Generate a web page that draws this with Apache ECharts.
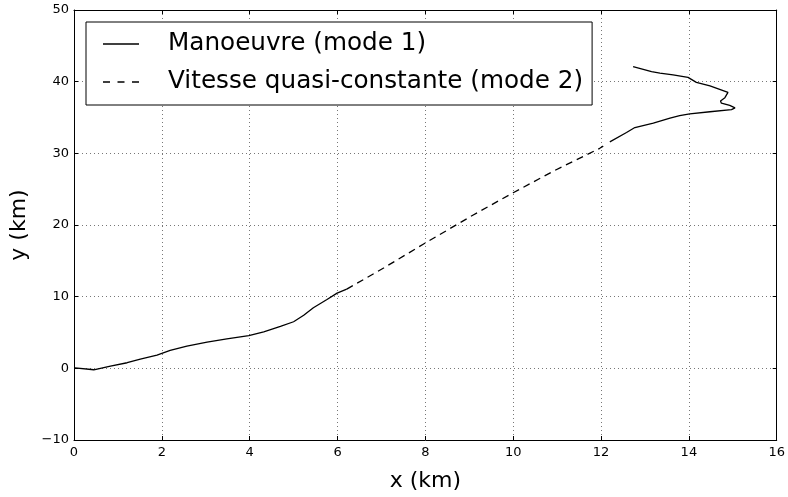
<!DOCTYPE html>
<html>
<head>
<meta charset="utf-8">
<script src="https://cdn.jsdelivr.net/npm/echarts@6/dist/echarts.min.js"></script>
<style>html,body{margin:0;padding:0;background:#fff}#c{width:788px;height:497px}</style>
</head>
<body>
<div id="c"></div>
<script>
var xTicks = [0, 2, 4, 6, 8, 10, 12, 14, 16];
var yTicks = [-10, 0, 10, 20, 30, 40, 50];
var seriesNames = ['Manoeuvre (mode 1)', 'Vitesse quasi-constante (mode 2)'];

var manoeuvreStart = [
  [0.02, 0.05], [0.45, -0.2], [0.83, 0.3], [1.21, 0.78], [1.51, 1.3], [1.89, 1.84],
  [2.19, 2.5], [2.57, 3.1], [3.03, 3.66], [3.48, 4.1], [3.98, 4.57], [4.32, 5.1],
  [4.70, 5.85], [5.0, 6.5], [5.23, 7.4], [5.45, 8.45], [5.76, 9.6], [5.99, 10.5], [6.21, 11.05]
];
var quasiConstant = [
  [6.21, 11.05], [7.05, 14.0], [7.96, 17.35], [9.09, 21.4], [10.0, 24.5],
  [10.91, 27.5], [11.97, 30.7], [12.05, 31.0]
];
var manoeuvreEnd = [
  [12.20, 31.6], [12.58, 32.9], [12.77, 33.6], [13.19, 34.2], [13.57, 34.9], [13.79, 35.25],
  [14.02, 35.5], [14.48, 35.8], [14.97, 36.1], [15.05, 36.35], [14.93, 36.7], [14.74, 36.99],
  [14.72, 37.3], [14.82, 37.77], [14.89, 38.5], [14.48, 39.4], [14.17, 39.9], [13.98, 40.6],
  [13.64, 40.96], [13.34, 41.2], [13.15, 41.4], [12.73, 42.1]
];

var font = 'DejaVu Sans';
var gridColor = '#777';
function fmt(v) { return String(v).replace('-', '\u2212'); }

var solidIcon = 'path://M0,0h36v1.3h-36z';
var dashIcon = 'path://M0,0h7v1.3h-7zM14.5,0h7v1.3h-7zM29,0h7v1.3h-7z';

var chart = echarts.init(document.getElementById('c'), null, {renderer: 'canvas'});
var axisLineStyle = {show: true, onZero: false, lineStyle: {color: '#000', width: 1}};
var tickStyle = {show: true, inside: true, length: 4, lineStyle: {color: '#000', width: 1}};
chart.setOption({
  animation: false,
  backgroundColor: '#fff',
  textStyle: {fontFamily: font},
  grid: {left: 73.5, right: 11, top: 10, bottom: 51, containLabel: false},
  legend: {
    orient: 'vertical',
    left: 86, top: 22,
    data: [
      {name: seriesNames[0], icon: solidIcon, itemStyle: {color: '#000'}},
      {name: seriesNames[1], icon: dashIcon, itemStyle: {color: '#000'}}
    ],
    backgroundColor: '#fff',
    borderColor: '#000', borderWidth: 1,
    padding: [7, 9, 8, 17],
    itemWidth: 36, itemHeight: 1.3, itemGap: 8,
    textStyle: {fontFamily: font, fontSize: 24.7, color: '#000', padding: [0, 0, 0, 24], lineHeight: 30}
  },
  xAxis: [{
    type: 'value', min: xTicks[0], max: xTicks[xTicks.length - 1], interval: 2,
    name: 'x (km)', nameLocation: 'middle', nameGap: 30,
    nameTextStyle: {fontFamily: font, fontSize: 22, color: '#000'},
    axisLine: axisLineStyle, axisTick: tickStyle,
    axisLabel: {fontFamily: font, fontSize: 13, color: '#000', margin: 6, formatter: fmt},
    splitLine: {show: true, lineStyle: {color: gridColor, type: [1, 3], width: 1}}
  }, {
    type: 'value', position: 'top', min: xTicks[0], max: xTicks[xTicks.length - 1], interval: 2,
    axisLine: axisLineStyle, axisTick: tickStyle, axisLabel: {show: false}, splitLine: {show: false}
  }],
  yAxis: [{
    type: 'value', min: yTicks[0], max: yTicks[yTicks.length - 1], interval: 10,
    name: 'y (km)', nameLocation: 'middle', nameGap: 44, nameRotate: 90,
    nameTextStyle: {fontFamily: font, fontSize: 22, color: '#000'},
    axisLine: axisLineStyle, axisTick: tickStyle,
    axisLabel: {fontFamily: font, fontSize: 13, color: '#000', margin: 5, formatter: fmt},
    splitLine: {show: true, lineStyle: {color: gridColor, type: [1, 3], width: 1}}
  }, {
    type: 'value', position: 'right', min: yTicks[0], max: yTicks[yTicks.length - 1], interval: 10,
    axisLine: axisLineStyle, axisTick: tickStyle, axisLabel: {show: false}, splitLine: {show: false}
  }],
  series: [{
    name: seriesNames[0], type: 'line', data: manoeuvreStart, showSymbol: false, symbol: 'none',
    lineStyle: {color: '#000', width: 1.3}, itemStyle: {color: '#000'}
  }, {
    name: seriesNames[1], type: 'line', data: quasiConstant, showSymbol: false, symbol: 'none',
    lineStyle: {color: '#000', width: 1.3, type: [7, 5]}, itemStyle: {color: '#000'}
  }, {
    name: seriesNames[0], type: 'line', data: manoeuvreEnd, showSymbol: false, symbol: 'none',
    lineStyle: {color: '#000', width: 1.3}, itemStyle: {color: '#000'}
  }]
});
</script>
</body>
</html>
